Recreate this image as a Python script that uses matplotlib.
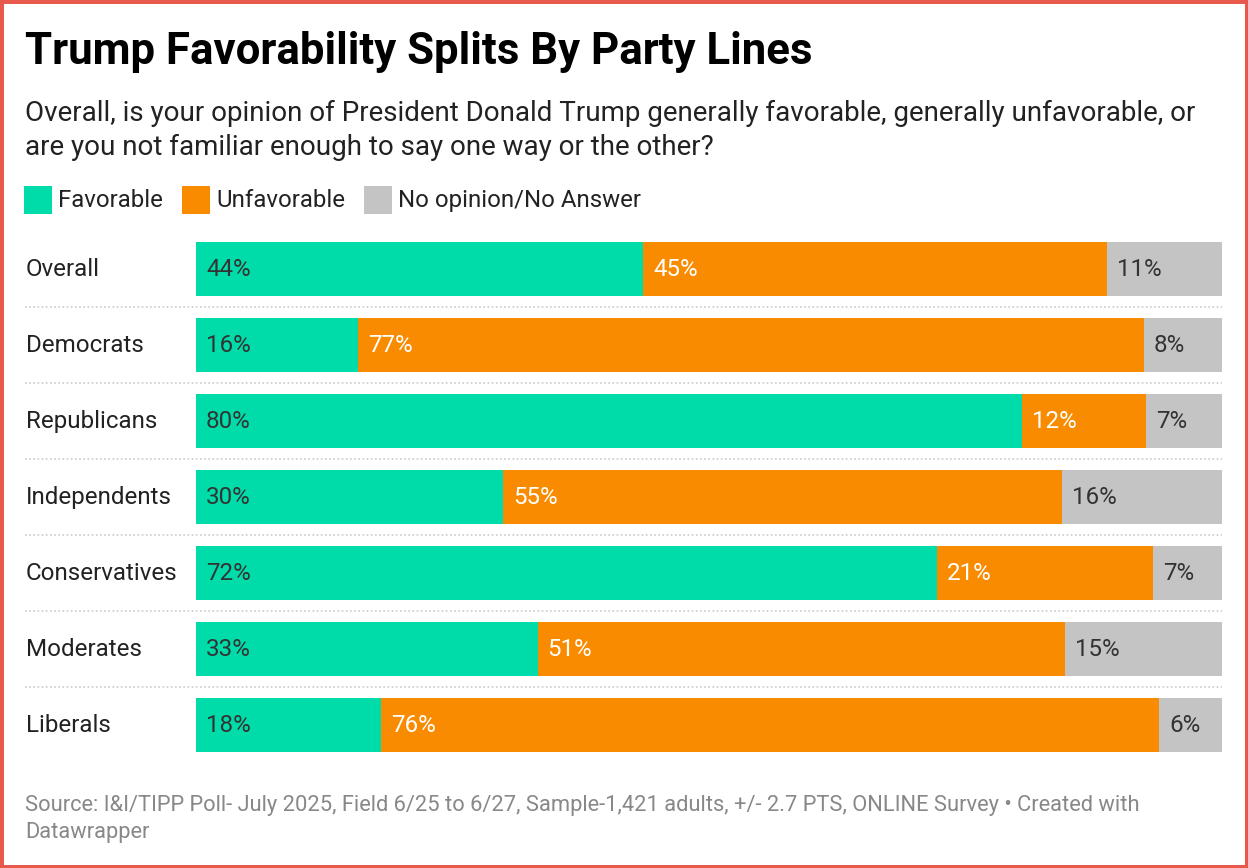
import numpy as np
import matplotlib.pyplot as plt
import matplotlib.transforms as mtransforms
from matplotlib.patches import Rectangle

plt.rcParams['font.family'] = ['Roboto', 'DejaVu Sans']

groups = ['Overall', 'Democrats', 'Republicans', 'Independents',
          'Conservatives', 'Moderates', 'Liberals']
# values (labels are the rounded values)
favorable = [43.6, 15.8, 80.4, 30.0, 72.2, 33.3, 18.0]
unfavorable = [45.2, 76.6, 12.1, 54.6, 21.1, 51.4, 75.8]
no_opinion = [11.2, 7.6, 7.4, 15.6, 6.7, 15.3, 6.1]

series_names = ['Favorable', 'Unfavorable', 'No opinion/No Answer']
colors = ['#00DCA9', '#F98B00', '#C4C4C4']
label_colors = ['#333333', '#FFFFFF', '#333333']

W, H = 1248, 868
fig = plt.figure(figsize=(W / 100, H / 100), dpi=100)


def fx(px):
    return px / W


def fy(py):
    return 1 - py / H


# bars area: x 196..1222 px, y 242..752 px
ax = fig.add_axes([fx(196), fy(752), fx(1222 - 196), (752 - 242) / H])

vals = np.array([favorable, unfavorable, no_opinion], dtype=float)
shares = vals / vals.sum(axis=0)
y = np.arange(len(groups))
bar_h = 54 / 76

left = np.zeros(len(groups))
for i in range(3):
    ax.barh(y, shares[i], left=left, height=bar_h, color=colors[i], linewidth=0)
    for j in range(len(groups)):
        ax.text(left[j] + 10 / 1026, y[j], f'{vals[i, j]:.0f}%', va='center', ha='left',
                fontsize=17.4, color=label_colors[i])
    left += shares[i]

ax.set_xlim(0, 1)
ax.set_ylim(len(groups) - 1 + bar_h / 2, -bar_h / 2)
ax.axis('off')

trans = mtransforms.blended_transform_factory(fig.transFigure, ax.transData)
for j, g in enumerate(groups):
    ax.text(fx(26), y[j], g, transform=trans, va='center', ha='left',
            fontsize=17.4, color='#222222')
for j in range(len(groups) - 1):
    ax.plot([fx(25), fx(1222)], [j + 0.5, j + 0.5], transform=trans, clip_on=False,
            color='#CCCCCC', lw=1.2, ls=(0, (1, 1.5)))

# titles
fig.text(fx(25), fy(64), 'Trump Favorability Splits By Party Lines', fontsize=31.5,
         fontweight='bold', color='#000000', va='baseline')
fig.text(fx(25), fy(121), 'Overall, is your opinion of President Donald Trump generally favorable, '
         'generally unfavorable, or', fontsize=20, color='#222222', va='baseline')
fig.text(fx(25), fy(155), 'are you not familiar enough to say one way or the other?',
         fontsize=20, color='#222222', va='baseline')

# legend
legend_x = [24, 182, 364]
for i, name in enumerate(series_names):
    fig.patches.append(Rectangle((fx(legend_x[i]), fy(214)), fx(28), 28 / H,
                                 transform=fig.transFigure, color=colors[i], lw=0))
    fig.text(fx(legend_x[i] + 34), fy(207), name, fontsize=17.3, color='#222222',
             va='baseline')

# footer
fig.text(fx(25), fy(811), 'Source: I&I/TIPP Poll- July 2025, Field 6/25 to 6/27, '
         'Sample-1,421 adults, +/- 2.7 PTS, ONLINE Survey \u2022 Created with',
         fontsize=15.75, color='#888888', va='baseline')
fig.text(fx(25), fy(838), 'Datawrapper', fontsize=15.75, color='#888888', va='baseline')

# red border
fig.patches.append(Rectangle((0, 0), 1, 1, transform=fig.transFigure, fill=False,
                             edgecolor='#E8584B', lw=5))

fig.savefig('out.png', dpi=100)
